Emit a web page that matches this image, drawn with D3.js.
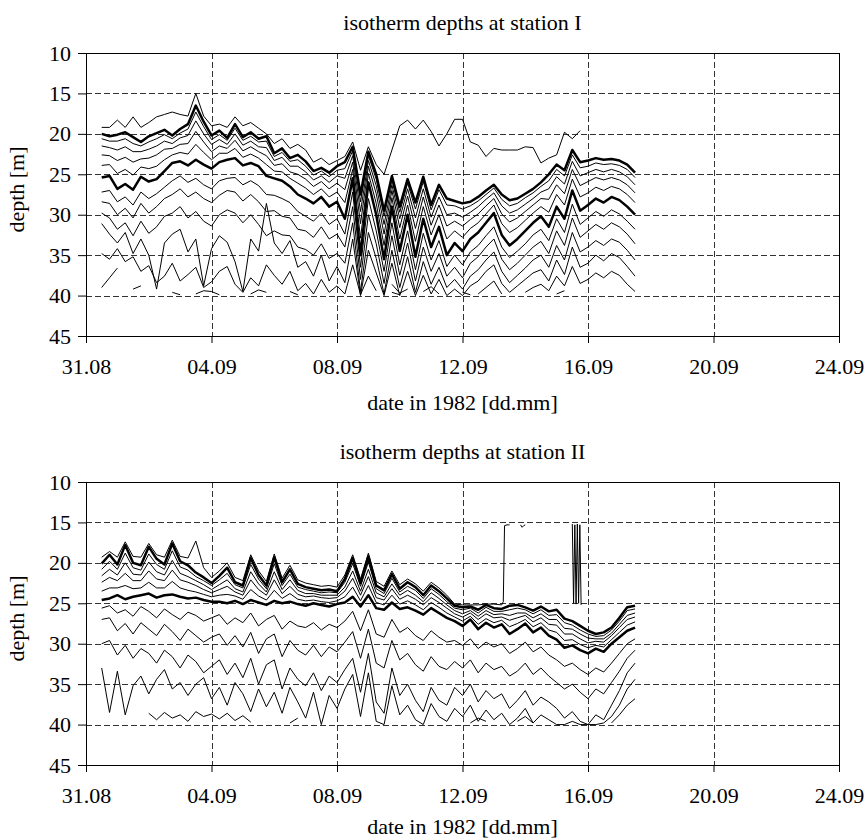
<!DOCTYPE html>
<meta charset="utf-8">

<style>
    body { margin: 0; background: #fff; }
    svg text { font-family: "Liberation Serif", "Times New Roman", serif; fill: #000; }
</style>

<!-- Load d3.js -->
<script src="https://d3js.org/d3.v7.min.js"></script>

<div id="my_dataviz"></div>

<script>
    // sample times: days after 31.08.1982 00:00, every 6 hours
    var days = [0.5, 0.75, 1, 1.25, 1.5, 1.75, 2, 2.25, 2.5, 2.75, 3, 3.25, 3.5, 3.75, 4, 4.25, 4.5, 4.75, 5, 5.25, 5.5, 5.75, 6,
        6.25, 6.5, 6.75, 7, 7.25, 7.5, 7.75, 8, 8.25, 8.5, 8.75, 9, 9.25, 9.5, 9.75, 10, 10.25, 10.5, 10.75, 11, 11.25, 11.5,
        11.75, 12, 12.25, 12.5, 12.75, 13, 13.25, 13.5, 13.75, 14, 14.25, 14.5, 14.75, 15, 15.25, 15.5, 15.75, 16, 16.25,
        16.5, 16.75, 17, 17.25, 17.5];

    // axis ticks
    var tickDates = ["1982-08-31", "1982-09-04", "1982-09-08", "1982-09-12", "1982-09-16", "1982-09-20", "1982-09-24"];
    var tickLabels = ["31.08", "04.09", "08.09", "12.09", "16.09", "20.09", "24.09"];
    var depthTicks = [10, 15, 20, 25, 30, 35, 40, 45];

    // ---- station I : isotherm depths [m], top to bottom (null = no data)
    var isoI_1 = [19.2, 19.2, 18.3, 19.2, 17.9, 19.2, 18.6, 17.9, 17.6, 17.3, 17.6, 17.8, 15.0, 17.8, 19.0, 18.8, 19.2, 17.9, 19.0, 18.6, 19.3, 20.0, 21.2,
        20.6, 21.8, 21.3, 22.0, 23.5, 23.0, 23.8, 23.3,
        22.8, 21.0, 24.5, 21.6, 23.8, 25.0, 22.0, 19.0, 18.3, 19.4, 18.3, 19.7, 21.5, 20.0,
        18.2, 18.2, 21.0, 21.4, 22.8, 21.8, 22.0, 22.0, 22.0, 21.6, 21.7, 23.6,
        23.0, 22.6, 19.8, 20.6, 19.6, null, null, null, null, null, null, null];
    var isoI_2 = [20.0, 20.3, 20.1, 19.8, 20.4, 21.0, 20.3, 19.9, 19.5, 20.2, 19.4, 18.8, 16.5, 18.5, 20.2, 19.6, 20.5, 18.8, 20.4, 19.8, 20.6, 20.3, 22.4,
        21.8, 23.0, 22.6, 23.4, 24.6, 24.2, 24.8, 24.0,
        23.5, 21.6, 27.5, 22.2, 25.0, 29.5, 25.2, 29.0, 25.6, 28.5, 25.3, 28.8, 26.3, 28.0,
        28.3, 28.6, 28.4, 27.8, 27.0, 26.3, 27.5, 28.2, 28.0, 27.4, 26.8, 26.0,
        25.0, 23.8, 24.5, 22.0, 23.5, 23.3, 23.0, 23.2, 23.1, 23.3, 23.8, 24.8];
    var isoI_3 = [20.6, 20.9, 20.9, 20.6, 21.2, 21.5, 21.0, 20.6, 20.1, 20.6, 19.9, 19.4, 17.3, 19.1, 20.7, 20.1, 20.8, 19.3, 20.8, 20.3, 21.0, 20.9, 22.8,
        22.3, 23.4, 23.2, 24.0, 25.1, 24.6, 25.3, 24.5,
        24.3, 22.1, 28.4, 22.7, 25.6, 30.2, 25.7, 29.7, 26.1, 29.3, 25.9, 29.4, 26.9, 28.8,
        28.9, 29.3, 28.9, 28.3, 27.5, 26.7, 28.1, 28.9, 28.6, 27.9, 27.3, 26.5,
        25.8, 24.4, 25.2, 22.6, 24.2, 24.0, 23.6, 23.8, 23.7, 23.9, 24.4, 25.4];
    var isoI_4 = [21.5, 21.7, 22.0, 21.6, 22.2, 22.2, 21.9, 21.5, 20.9, 21.2, 20.5, 20.2, 18.4, 20.0, 21.3, 20.7, 21.3, 20.0, 21.4, 20.9, 21.6, 21.7, 23.3,
        22.9, 24.0, 24.0, 24.7, 25.7, 25.2, 26.0, 25.2,
        25.5, 22.7, 29.6, 23.3, 26.4, 31.2, 26.3, 30.5, 26.8, 30.4, 26.8, 30.3, 27.8, 30.0,
        29.8, 30.3, 29.7, 29.0, 28.1, 27.3, 28.9, 29.8, 29.4, 28.7, 28.0, 27.2,
        26.8, 25.3, 26.2, 23.4, 25.2, 24.8, 24.4, 24.7, 24.4, 24.7, 25.3, 26.3];
    var isoI_5 = [22.6, 22.7, 23.3, 22.9, 23.5, 23.1, 23.0, 22.6, 21.9, 21.8, 21.3, 21.2, 19.7, 21.0, 22.2, 21.5, 21.8, 20.8, 22.1, 21.6, 22.2, 22.7, 23.9,
        23.7, 24.7, 25.0, 25.6, 26.5, 25.9, 26.8, 26.1,
        26.9, 23.5, 31.1, 24.0, 27.4, 32.4, 27.0, 31.6, 27.7, 31.7, 27.8, 31.3, 28.8, 31.4,
        30.8, 31.4, 30.6, 29.9, 28.9, 28.0, 29.9, 30.9, 30.4, 29.6, 28.8, 28.0,
        28.1, 26.3, 27.4, 24.4, 26.4, 25.9, 25.4, 25.7, 25.4, 25.7, 26.3, 27.3];
    var isoI_6 = [23.9, 23.8, 24.9, 24.4, 25.1, 24.1, 24.3, 24.0, 23.2, 22.6, 22.3, 22.5, 21.3, 22.3, 23.2, 22.4, 22.4, 21.8, 22.9, 22.5, 23.0, 23.8, 24.6,
        24.7, 25.5, 26.1, 26.7, 27.5, 26.8, 27.8, 27.2,
        28.5, 24.4, 32.9, 24.9, 28.6, 33.8, 27.9, 33.0, 28.8, 33.3, 29.0, 32.5, 30.0, 33.0,
        32.0, 32.8, 31.7, 31.0, 29.9, 28.8, 31.1, 32.2, 31.6, 30.7, 29.8, 29.0,
        29.7, 27.5, 28.8, 25.6, 27.8, 27.3, 26.6, 27.0, 26.5, 26.8, 27.5, 28.5];
    var isoI_7 = [25.4, 25.2, 26.8, 26.2, 26.9, 25.3, 25.9, 25.6, 24.6, 23.6, 23.4, 23.9, 23.2, 23.8, 24.3, 23.5, 23.2, 23.0, 23.9, 23.6, 24.0, 25.2, 25.5,
        25.8, 26.5, 27.5, 28.0, 28.6, 27.8, 29.0, 28.4,
        30.5, 25.5, 35.0, 26.0, 30.0, 35.5, 29.0, 34.5, 30.0, 35.2, 30.5, 34.0, 31.5, 35.0,
        33.5, 34.5, 33.0, 32.2, 31.0, 29.8, 32.5, 33.8, 33.0, 32.0, 31.0, 30.2,
        31.5, 29.0, 30.5, 27.0, 29.5, 28.8, 28.0, 28.5, 27.8, 28.2, 29.0, 30.0];
    var isoI_8 = [27.2, 27.0, 28.4, 27.8, 28.8, 27.2, 28.0, 27.4, 26.6, 25.8, 25.2, 26.0, 25.5, 26.3, 26.8, 25.8, 25.5, 25.4, 26.3, 25.8, 26.4, 27.5, 27.6,
        28.0, 28.5, 29.6, 30.2, 30.8, 29.8, 31.2, 30.5,
        32.4, 27.2, 36.5, 28.0, 32.0, 37.0, 31.0, 36.2, 32.0, 36.8, 32.3, 35.6, 33.2, 36.4,
        35.0, 36.2, 34.6, 33.8, 32.6, 31.5, 34.0, 35.3, 34.5, 33.6, 32.5, 31.8,
        33.2, 30.5, 32.2, 28.7, 31.2, 30.4, 29.6, 30.2, 29.4, 29.9, 30.8, 31.8];
    var isoI_9 = [28.4, 28.6, 30.0, 29.2, 30.4, 28.6, 29.8, 29.0, 28.0, 27.5, 26.8, 27.8, 27.2, 28.0, 28.5, 27.6, 27.0, 27.2, 28.3, 27.5, 28.4, 29.6, 29.5,
        30.2, 30.4, 31.8, 32.0, 32.8, 31.5, 33.0, 32.4,
        34.0, 29.0, 38.0, 30.0, 33.6, 38.5, 32.6, 37.5, 33.5, 38.2, 34.0, 37.0, 34.8, 37.6,
        36.5, 37.8, 36.0, 35.2, 34.0, 33.0, 35.5, 36.8, 36.0, 35.0, 34.0, 33.3,
        34.8, 32.0, 33.8, 30.4, 32.8, 32.0, 31.2, 31.8, 31.0, 31.5, 32.4, 33.6];
    var isoI_10 = [29.8, 30.4, 31.8, 31.0, 32.6, 30.8, 32.3, 31.5, 30.2, 29.8, 29.0, 30.4, 29.6, 30.8, 31.4, 30.0, 29.4, 29.8, 31.0, 30.0, 31.2, 32.6, 32.0,
        32.5, 32.6, 34.0, 34.3, 35.0, 33.6, 35.4, 34.8,
        36.0, 31.0, 39.5, 32.2, 35.4, 39.8, 34.4, 39.0, 35.2, 39.6, 35.8, 38.6, 36.5, 39.0,
        38.0, 39.2, 37.6, 36.8, 35.6, 34.6, 37.0, 38.4, 37.5, 36.6, 35.6, 35.0,
        36.5, 33.8, 35.6, 32.2, 34.6, 34.0, 33.2, 33.8, 33.0, 33.4, 34.4, 35.6];
    var isoI_11 = [31.1, 32.4, 33.5, 32.2, 34.8, 33.0, 35.0, 39.2, 33.5, 32.4, 31.8, 34.6, 33.0, 38.8, 34.2, 32.6, 33.4, 35.8, 39.5, 33.0, 34.5, 28.6, 33.5,
        34.8, 33.2, 36.5, 35.8, 37.6, 35.0, 38.2, 36.4,
        38.4, 33.0, 40.0, 34.4, 37.2, 40.0, 36.0, 40.0, 37.0, 40.0, 37.5, 39.8, 38.0, 40.0,
        39.2, 40.0, 38.8, 38.2, 37.0, 36.2, 38.5, 39.6, 38.8, 38.0, 37.2, 36.8,
        38.2, 35.6, 37.4, 34.0, 36.5, 36.0, 35.0, 35.7, 34.8, 35.3, 36.4, 37.6];
    var isoI_12 = [34.8, 35.5, 34.2, 35.8, 35.2, 37.0, 36.3, 38.4, 37.6, 36.0, 38.2, 37.4, 36.5, 39.0, 38.3, 37.0, 36.4, 38.6, 39.6, 37.8, 38.8, 36.2, 37.5,
        38.6, 37.0, 39.4, 38.5, 39.8, 38.0, 39.6, 38.8,
        39.8, 36.2, 39.9, 37.6, 39.4, null, 38.6, 39.7, 39.2, null, 39.5, 38.9, 39.8, null,
        null, null, null, 39.8, 39.0, 38.2, 39.8, null, null, 39.6, 39.0, 38.6,
        39.4, 37.6, 38.8, 36.4, 38.5, 38.0, 37.2, 37.8, 37.0, 37.5, 38.6, 39.5];
    var isoI_13 = [39.0, 37.8, 36.6, null, 39.2, 38.8, null, null, null, 39.6, 39.9, null, 39.8, 39.4, 39.5, 39.9, null, null, null, 39.8, 39.3, 39.6, null,
        null, 39.5, 39.9, null, null, null, null, null,
        null, null, null, null, null, null, 39.6, 39.9, null, null, null, null, null, null,
        null, 39.6, 39.9, null, null, null, null, null, null, null, null, null,
        null, 39.8, 39.4, null, null, null, null, null, null, null, null, null];
    var boldI = [2, 7];

    // ---- station II : uppermost isotherm has its own (denser) time base
    var topDaysII = [0.5, 0.75, 1, 1.25, 1.5, 1.75, 2, 2.25, 2.5, 2.75, 3, 3.25, 3.5, 3.75, 4, 4.25, 4.5, 4.75, 5, 5.25, 5.5, 5.75, 6,
        6.25, 6.5, 6.75, 7, 7.25, 7.5, 7.75, 8, 8.25, 8.5, 8.75, 9, 9.25, 9.5, 9.75, 10, 10.25, 10.5, 10.75, 11, 11.25, 11.5,
        11.75, 12, 12.25, 12.5, 12.75, 13, 13.25,
        13.3, 13.34, 13.42, 13.5, 13.6, 13.85, 13.9, 13.95, 14.0, 14.5,
        15.5, 15.54, 15.58, 15.62, 15.66, 15.7, 15.74, 15.78];
    var isoII_1 = [19.3, 18.6, 19.3, 17.4, 19.2, 19.3, 17.6, 19.0, 19.3, 17.2, 19.2, 19.4, 17.3, 20.6, 21.8,
        21.0, 20.0, 21.8, 22.2, 19.0, 21.0, 22.3, 18.9, 21.9, 20.3, 22.1, 22.5, 22.7, 22.9, 22.8, 23.0, 21.5,
        19.0, 22.0, 18.8, 22.3, 22.9, 21.0, 22.7, 22.0, 22.6, 23.5, 22.4, 23.1, 24.0,
        25.1, 25.2, 25.2, 25.2, 25.1, 25.1, 25.2,
        24.8, 15.4, 15.3, 15.3, null, 15.3, 15.6, 15.4, 15.3, null,
        15.2, 25.0, 15.3, 25.1, 15.2, 25.0, 15.3, 25.2];
    var isoII_2 = [20.1, 19.0, 20.2, 17.8, 20.0, 20.3, 18.0, 19.5, 20.2, 17.6, 19.8, 20.3, 21.2, 21.8, 22.5,
        21.6, 20.6, 22.4, 22.8, 19.4, 21.5, 22.8, 19.3, 22.4, 20.8, 22.6, 23.0, 23.2, 23.4, 23.3, 23.5, 22.0,
        19.4, 22.5, 19.2, 22.8, 23.4, 21.4, 23.2, 22.4, 23.0, 24.0, 22.8, 23.5, 24.4,
        25.3, 25.5, 25.4, 25.8, 25.2, 25.6, 25.7, 25.3, 25.2, 25.5, 25.9, 25.4,
        26.0, 25.8, 26.9, 27.2, 27.8, 28.4, 28.8, 28.6, 28.0, 26.8, 25.5, 25.3];
    var isoII_3 = [20.8, 19.8, 20.8, 18.8, 20.6, 20.9, 18.9, 20.2, 20.8, 18.5, 20.5, 20.9, 21.7, 22.2, 22.8,
        22.1, 21.3, 22.7, 23.1, 20.2, 22.0, 23.2, 20.1, 22.8, 21.4, 23.0, 23.3, 23.5, 23.7, 23.6, 23.7, 22.4,
        20.1, 22.9, 19.9, 23.2, 23.8, 21.9, 23.6, 22.9, 23.4, 24.4, 23.2, 23.9, 24.8,
        25.6, 25.8, 25.6, 26.2, 25.5, 26.0, 26.0, 25.8, 25.6, 25.8, 26.3, 25.8,
        26.5, 26.4, 27.4, 27.7, 28.3, 28.8, 29.1, 29.0, 28.3, 27.2, 25.9, 25.7];
    var isoII_4 = [21.6, 20.8, 21.5, 20.0, 21.4, 21.5, 19.9, 21.1, 21.5, 19.7, 21.3, 21.7, 22.2, 22.7, 23.3,
        22.7, 22.1, 23.2, 23.6, 21.1, 22.6, 23.6, 21.1, 23.3, 22.1, 23.4, 23.8, 23.8, 24.0, 24.0, 24.0, 23.0,
        21.0, 23.5, 20.8, 23.7, 24.2, 22.6, 24.0, 23.4, 24.0, 24.8, 23.7, 24.4, 25.2,
        25.9, 26.3, 25.9, 26.6, 25.9, 26.4, 26.3, 26.5, 26.2, 26.2, 26.8, 26.3,
        27.0, 27.0, 28.1, 28.2, 28.8, 29.3, 29.4, 29.4, 28.7, 27.6, 26.5, 26.2];
    var isoII_5 = [22.4, 21.8, 22.2, 21.3, 22.2, 22.2, 21.0, 22.0, 22.2, 20.9, 22.1, 22.4, 22.8, 23.3, 23.7,
        23.3, 22.9, 23.6, 24.0, 22.1, 23.3, 24.0, 22.1, 23.8, 22.9, 23.9, 24.2, 24.1, 24.3, 24.4, 24.3, 23.5,
        21.9, 24.0, 21.7, 24.3, 24.6, 23.2, 24.5, 24.0, 24.5, 25.2, 24.3, 24.9, 25.6,
        26.3, 26.7, 26.2, 27.0, 26.3, 26.8, 26.7, 27.1, 26.8, 26.5, 27.3, 26.8,
        27.6, 27.7, 28.8, 28.8, 29.4, 29.9, 29.7, 29.8, 29.0, 28.0, 27.0, 26.7];
    var isoII_6 = [23.5, 23.1, 23.1, 22.8, 23.2, 23.1, 22.4, 23.1, 23.1, 22.3, 23.1, 23.4, 23.6, 23.9, 24.2,
        24.0, 23.9, 24.1, 24.5, 23.3, 24.1, 24.6, 23.4, 24.4, 23.8, 24.5, 24.7, 24.6, 24.8, 24.9, 24.7, 24.2,
        23.0, 24.7, 22.8, 24.9, 25.2, 24.0, 25.1, 24.7, 25.2, 25.8, 24.9, 25.5, 26.2,
        26.7, 27.2, 26.6, 27.6, 26.9, 27.4, 27.1, 27.9, 27.5, 27.0, 27.9, 27.4,
        28.3, 28.6, 29.6, 29.5, 30.1, 30.5, 30.2, 30.4, 29.5, 28.6, 27.7, 27.3];
    var isoII_7 = [24.6, 24.4, 24.0, 24.5, 24.2, 24.0, 23.8, 24.3, 24.0, 23.9, 24.2, 24.4, 24.3, 24.6, 24.8,
        24.8, 25.0, 24.7, 25.1, 24.6, 24.9, 25.2, 24.7, 25.0, 24.8, 25.1, 25.3, 25.0, 25.2, 25.4, 25.1, 24.9,
        24.2, 25.4, 24.0, 25.6, 25.8, 24.9, 25.7, 25.5, 25.9, 26.4, 25.6, 26.2, 26.8,
        27.2, 27.8, 27.0, 28.2, 27.4, 28.0, 27.6, 28.8, 28.2, 27.5, 28.6, 28.0,
        29.0, 29.5, 30.5, 30.2, 30.8, 31.2, 30.6, 31.0, 30.0, 29.2, 28.4, 28.0];
    var isoII_8 = [25.6, 25.3, 26.2, 25.8, 26.6, 25.4, 26.0, 26.8, 25.7, 26.4, 27.0, 26.1, 26.5, 27.2, 26.8,
        26.4, 27.6, 26.8, 27.4, 26.2, 27.8, 27.0, 26.5, 28.2, 27.2, 27.8, 28.0, 27.4, 28.3, 27.6, 28.0, 27.2,
        26.0, 28.4, 25.8, 28.8, 29.2, 27.0, 28.6, 28.0, 29.0, 29.6, 28.4, 29.2, 29.8,
        29.6, 30.2, 29.4, 30.6, 29.8, 30.4, 30.0, 31.2, 30.6, 29.8, 31.0, 30.4,
        31.4, 32.0, 32.8, 32.4, 33.2, 33.8, 33.0, 33.5, 32.4, 31.2, 30.0, 29.4];
    var isoII_9 = [27.0, 26.8, 28.4, 27.5, 28.8, 27.4, 28.2, 29.0, 27.6, 28.5, 29.6, 28.2, 29.0, 29.8, 29.2,
        28.8, 30.2, 29.0, 30.4, 28.6, 31.2, 29.4, 28.8, 31.6, 29.6, 30.8, 31.4, 30.2, 31.6, 30.4, 31.0, 29.8,
        28.5, 31.8, 28.2, 32.4, 33.0, 29.6, 32.0, 31.2, 32.6, 33.4, 31.6, 32.8, 33.2,
        32.2, 33.0, 32.0, 33.6, 32.4, 33.2, 32.8, 34.0, 33.4, 32.4, 33.8, 33.0,
        34.0, 34.8, 35.6, 35.0, 36.0, 36.8, 35.6, 36.2, 34.8, 33.4, 31.8, 30.8];
    var isoII_10 = [30.0, 29.6, 31.4, 30.2, 31.8, 30.6, 31.2, 32.4, 30.8, 31.6, 33.0, 31.4, 32.2, 33.6, 32.8,
        32.0, 33.8, 32.4, 34.2, 31.8, 35.0, 32.6, 32.0, 35.6, 33.0, 34.4, 35.2, 33.6, 35.8, 34.0, 34.8, 33.2,
        31.8, 36.0, 31.2, 37.2, 38.6, 33.0, 36.4, 35.0, 37.0, 38.4, 35.4, 37.0, 37.6,
        35.4, 36.4, 35.0, 37.2, 35.8, 36.8, 36.2, 38.0, 37.0, 35.8, 37.6, 36.6,
        37.2, 38.0, 39.2, 38.4, 39.6, 40.0, 38.8, 39.4, 37.6, 35.8, 33.6, 32.4];
    var isoII_11 = [33.0, 38.5, 33.4, 38.8, 35.2, 34.0, 36.2, 34.4, 33.2, 35.6, 34.8, 36.4, 35.0, 34.2, 36.8,
        35.4, 37.6, 34.8, 36.2, 38.4, 35.6, 37.8, 36.0, 38.6, 35.4, 37.2, 39.2, 36.0, 40.0, 36.4, 38.0, 35.6,
        33.8, 39.0, 33.6, 39.6, 40.0, 35.2, 38.8, 37.6, 39.4, 40.0, 37.4, 39.0, 39.6,
        38.0, 39.0, 37.6, 39.6, 38.2, 39.4, 38.6, 40.0, 39.2, 38.0, 39.8, 38.8,
        39.4, 40.0, 40.0, 39.6, 40.0, 40.0, 40.0, 39.8, 39.0, 37.6, 35.6, 34.4];
    var isoII_12 = [null, null, null, null, null, null, 38.6, 39.4, 38.5, 39.2, 38.8, 39.6, 38.4, 39.0, 38.7,
        39.3, 38.6, 39.5, 38.9, 39.7, null, null, null, null, 39.8, 39.2, null, null, null, null, null, null,
        null, null, null, null, null, null, null, null, null, null, null, null, null,
        null, null, 39.8, 39.2, 39.6, null, null, null, 39.6, 39.0, 39.8, null,
        null, null, null, null, null, null, null, null, 39.8, 38.8, 37.6, 36.8];
    var boldII = [2, 7];

    // ---- layout
    var width = 867, height = 839;
    var left = 86, right = 839, plotH = 283;
    var panelTops = [53, 482];
    var serif = "Liberation Serif, Times New Roman, serif";

    var svg = d3.select("#my_dataviz")
        .append("svg")
        .attr("width", width)
        .attr("height", height);

    var parseDay = d3.utcParse("%Y-%m-%d");
    var t0 = parseDay(tickDates[0]).getTime();
    function dayToDate(d) { return new Date(t0 + d * 864e5); }

    var x = d3.scaleUtc()
        .domain([parseDay(tickDates[0]), parseDay(tickDates[tickDates.length - 1])])
        .range([left, right]);

    function drawPanel(top, title, clipId, lines, xTitleGap) {
        var y = d3.scaleLinear()
            .domain([depthTicks[0], depthTicks[depthTicks.length - 1]])
            .range([top, top + plotH]);
        var bottom = top + plotH;
        var g = svg.append("g").attr("font-family", serif);

        // title
        g.append("text")
            .attr("x", (left + right) / 2)
            .attr("y", top - 23)
            .attr("text-anchor", "middle")
            .attr("font-size", 22)
            .text(title);

        // dashed grid
        g.append("g").selectAll("line")
            .data(depthTicks.slice(1, -1))
            .enter().append("line")
            .attr("x1", left).attr("x2", right)
            .attr("y1", function(d) { return Math.round(y(d)) + 0.5; })
            .attr("y2", function(d) { return Math.round(y(d)) + 0.5; })
            .attr("stroke", "#333").attr("stroke-dasharray", "6,3");
        g.append("g").selectAll("line")
            .data(tickDates.slice(1, -1))
            .enter().append("line")
            .attr("x1", function(d) { return Math.round(x(parseDay(d))) + 0.5; })
            .attr("x2", function(d) { return Math.round(x(parseDay(d))) + 0.5; })
            .attr("y1", top).attr("y2", bottom)
            .attr("stroke", "#333").attr("stroke-dasharray", "6,3");

        // isotherm lines
        g.append("clipPath").attr("id", clipId)
            .append("rect")
            .attr("x", left).attr("y", top)
            .attr("width", right - left).attr("height", plotH);

        var lineGen = d3.line()
            .defined(function(d) { return d[1] != null; })
            .x(function(d) { return x(dayToDate(d[0])); })
            .y(function(d) { return y(d[1]); });

        var sorted = lines.filter(function(l) { return !l.bold; })
            .concat(lines.filter(function(l) { return l.bold; }));
        g.append("g")
            .attr("clip-path", "url(#" + clipId + ")")
            .selectAll("path")
            .data(sorted)
            .enter().append("path")
            .attr("d", function(l) {
                return lineGen(l.values.map(function(v, i) { return [l.days[i], v]; }));
            })
            .attr("fill", "none")
            .attr("stroke", "#000")
            .attr("stroke-linejoin", "round")
            .attr("stroke-width", function(l) { return l.bold ? 2.5 : 1; });

        // frame
        g.append("rect")
            .attr("x", left + 0.5).attr("y", Math.round(top) + 0.5)
            .attr("width", right - left).attr("height", plotH)
            .attr("fill", "none").attr("stroke", "#000");

        // axes
        g.append("g")
            .attr("transform", "translate(" + left + ",0)")
            .call(d3.axisLeft(y).tickValues(depthTicks).tickSize(8).tickPadding(7).tickSizeOuter(0))
            .call(function(a) {
                a.select(".domain").remove();
                a.attr("font-size", 22).attr("font-family", serif);
            });
        g.append("g")
            .attr("transform", "translate(0," + bottom + ")")
            .call(d3.axisBottom(x)
                .tickValues(tickDates.map(parseDay))
                .tickFormat(function(d, i) { return tickLabels[i]; })
                .tickSize(7).tickPadding(15).tickSizeOuter(0))
            .call(function(a) {
                a.select(".domain").remove();
                a.attr("font-size", 22).attr("font-family", serif);
            });

        // axis titles
        g.append("text")
            .attr("x", (left + right) / 2)
            .attr("y", bottom + xTitleGap)
            .attr("text-anchor", "middle")
            .attr("font-size", 22)
            .text("date in 1982 [dd.mm]");
        g.append("text")
            .attr("transform", "translate(24," + (top + plotH / 2 - 5) + ")rotate(-90)")
            .attr("text-anchor", "middle")
            .attr("font-size", 22)
            .text("depth [m]");
    }

    var seriesI = [isoI_1, isoI_2, isoI_3, isoI_4, isoI_5, isoI_6, isoI_7, isoI_8, isoI_9, isoI_10, isoI_11, isoI_12, isoI_13];
    var linesI = seriesI.map(function(v, i) {
        return { days: days, values: v, bold: boldI.indexOf(i + 1) >= 0 };
    });

    var seriesII = [isoII_1, isoII_2, isoII_3, isoII_4, isoII_5, isoII_6, isoII_7, isoII_8, isoII_9, isoII_10, isoII_11, isoII_12];
    var linesII = seriesII.map(function(v, i) {
        return { days: i === 0 ? topDaysII : days, values: v, bold: boldII.indexOf(i + 1) >= 0 };
    });

    drawPanel(panelTops[0], "isotherm depths at station I", "clipI", linesI, 74);
    drawPanel(panelTops[1], "isotherm depths at station II", "clipII", linesII, 69);
</script>
